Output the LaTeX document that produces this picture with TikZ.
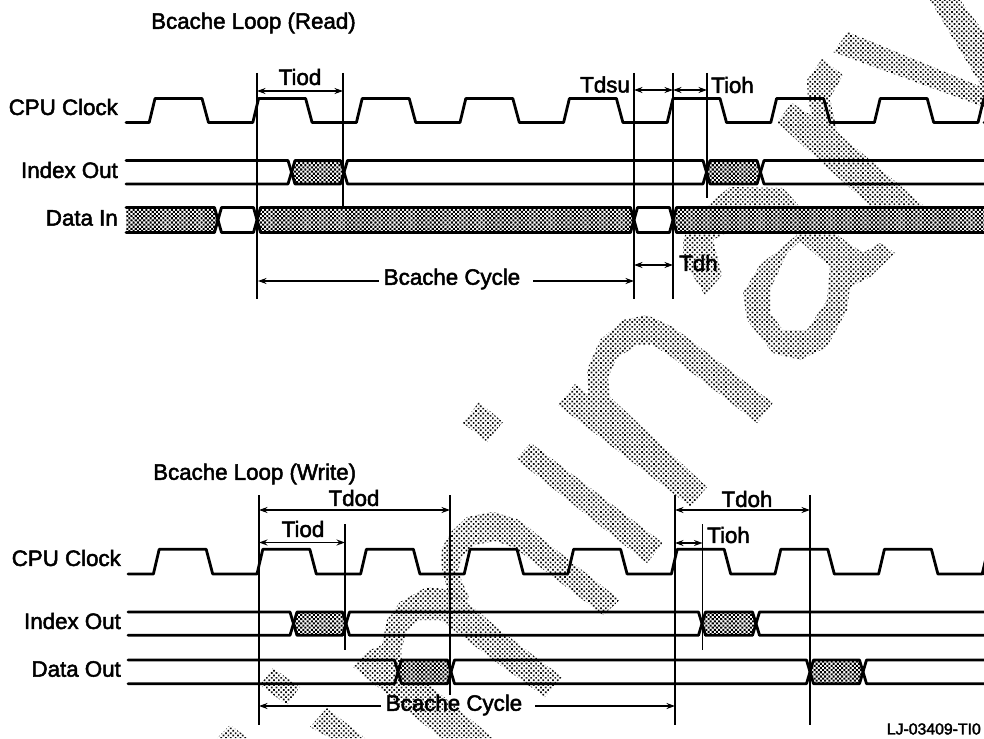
\documentclass[tikz,border=0pt]{standalone}
\usepackage{fontspec}
\setmainfont[FakeBold=2.2]{Liberation Sans}
\usetikzlibrary{patterns.meta,arrows.meta}
\definecolor{wm}{gray}{0.05}
\tikzset{
  wmark/.style={pattern={Dots[distance=3.4pt,radius=1.2pt,angle=45]},pattern color=wm},
  sig/.style={line width=2.8pt,line join=round,line cap=round},
  hatchfill/.style={pattern={Dots[distance=3pt,radius=1.45pt,angle=45]},pattern color=black},
  timeline/.style={line width=1.7pt},
  dim/.style={line width=1.2pt,{Stealth[length=8.5pt,width=6pt]}-{Stealth[length=8.5pt,width=6pt]}},
  onearrow/.style={line width=1.5pt,-{Stealth[length=8.5pt,width=6pt]}},
  lab/.style={font=\fontsize{22.3}{24}\selectfont,inner sep=0pt},
}
% clock: #1 first top start, #2 low y, #3 high y, #4 left end
\newcommand{\clockline}[4]{%
  \draw[sig] (#4,#2)
    \foreach \k in {0,...,8}{
      -- ({#1+103.6*\k-5.8},#2) -- ({#1+103.6*\k},#3) -- ({#1+103.6*\k+47},#3) -- ({#1+103.6*\k+53.5},#2)
    } -- (984,#2);}
% #1 x left tip, #2 x right tip, #3 top, #4 bottom
\newcommand{\plainseg}[4]{\draw[sig] ({#1+3.5},#3)--({#2-3.5},#3)--(#2,{(#3+#4)/2})--({#2-3.5},#4)--({#1+3.5},#4)--(#1,{(#3+#4)/2})--cycle;}
\newcommand{\hatchseg}[4]{\fill[white] ({#1+3.5},#3)--({#2-3.5},#3)--(#2,{(#3+#4)/2})--({#2-3.5},#4)--({#1+3.5},#4)--(#1,{(#3+#4)/2})--cycle;
  \path[hatchfill] ({#1+3.5},#3)--({#2-3.5},#3)--(#2,{(#3+#4)/2})--({#2-3.5},#4)--({#1+3.5},#4)--(#1,{(#3+#4)/2})--cycle;\plainseg{#1}{#2}{#3}{#4}}
\newcommand{\openL}[4]{\draw[sig] (#1,#3)--({#2-3.5},#3)--(#2,{(#3+#4)/2})--({#2-3.5},#4)--(#1,#4);}
\newcommand{\openR}[4]{\draw[sig] (#2,#3)--({#1+3.5},#3)--(#1,{(#3+#4)/2})--({#1+3.5},#4)--(#2,#4);}
\begin{document}
\begin{tikzpicture}[x=1pt,y=-1pt]
\useasboundingbox (0,0) rectangle (984,738);
\fill[white] (0,0) rectangle (984,738);
\begin{scope}
\clip (0,0) rectangle (984,738);
% ---- watermark ----
\path[wmark] (479,402)--(503,422)--(487,442)--(463,423)--cycle;
\path[wmark] (531,443)--(663,543)--(647,563)--(516,459)--cycle;
\path[wmark] (558,405)--(575,384)--(588,395)--(587,370)--(600,340)--(623,320)--(647,315)--(673,327)--(693,342)--(773,403)--(757,423)--(673,358)--(653,345)--(637,345)--(617,358)--(608,377)--(610,397)--(707,487)--(691,507)--cycle;
% m, first arch
\path[wmark] (441,565)--(442,548)--(450,533)--(467,517)--(493,512)--(520,520)--(540,537)--(620,600)--(603,615)--(540,567)--(515,548)--(495,541)--(475,545)--(462,556)--(458,572)--(470,600)--(450,600)--cycle;
% m, second arch and right leg
\path[wmark] (382,645)--(387,620)--(400,602)--(427,587)--(453,590)--(500,630)--(562,677)--(545,697)--(500,665)--(463,637)--(440,620)--(420,620)--(407,630)--(401,650)--(402,662)--(493,738)--(441,738)--(353,667)--(370,650)--cycle;
% i before m
\path[wmark] (273,668)--(300,687)--(287,705)--(260,685)--cycle;
\path[wmark] (327,708)--(365,738)--(330,738)--(310,727)--cycle;
\path[wmark] (230,725)--(248,738)--(217,738)--cycle;
% a
\path[wmark,even odd rule] (683,240)--(690,225)--(710,203)--(730,187)--(783,188)--(800,207)--(840,237)--(863,253)--(880,243)--(895,253)--(870,277)--(850,287)--(847,310)--(827,347)--(800,360)--(773,353)--(747,320)--(743,293)--(760,265)--(797,235)--(770,225)--(722,235)--(713,240)--(722,275)--(705,295)--(683,260)--cycle
  (800,241)--(830,267)--(827,300)--(807,330)--(783,330)--(770,313)--(770,290)--(787,253)--cycle;
% stems above
\path[wmark] (777,122)--(792,103)--(812,116)--(808,100)--(807,80)--(822,59)--(843,75)--(830,98)--(837,132)--(923,205)--(923,212)--(877,212)--(813,155)--cycle;
% y
\path[wmark] (833,52)--(848,32)--(984,88)--(984,107)--cycle;
\path[wmark] (930,0)--(960,0)--(984,32)--(984,90)--(973,72)--cycle;
% ---- read diagram ----
\clockline{155}{122.5}{98.5}{126}
\openL{126}{291.5}{160.5}{184}
\hatchseg{291.5}{344}{160.5}{184}
\plainseg{344}{706.5}{160.5}{184}
\hatchseg{706.5}{760.5}{160.5}{184}
\openR{760.5}{984}{160.5}{184}
% data in
\fill[white] (126,207) rectangle (215,233);
\path[hatchfill] (126,207)--(214.5,207)--(218,220)--(214.5,233)--(126,233)--cycle;
\openL{126}{218}{207.5}{232.5}
\plainseg{218}{257}{207.5}{232.5}
\hatchseg{257}{634}{207.5}{232.5}
\plainseg{634}{673}{207.5}{232.5}
\fill[white] (676,207) rectangle (984,233);
\path[hatchfill] (676.5,207)--(984,207)--(984,233)--(676.5,233)--(673,220)--cycle;
\openR{673}{984}{207.5}{232.5}
% ---- write diagram ----
\clockline{159.2}{574}{549.3}{128}
\openL{128}{293.5}{612}{635.3}
\hatchseg{293.5}{346}{612}{635.3}
\plainseg{346}{702}{612}{635.3}
\hatchseg{702}{756}{612}{635.3}
\openR{756}{984}{612}{635.3}
\openL{128}{398}{660}{683.7}
\hatchseg{398}{451}{660}{683.7}
\plainseg{451}{810}{660}{683.7}
\hatchseg{810}{863}{660}{683.7}
\openR{863}{984}{660}{683.7}
\end{scope}
% ---- timing coordinates ----
\coordinate (ra) at (257,73); \coordinate (rab) at (257,299);
\coordinate (rb) at (343,73); \coordinate (rbb) at (343,207);
\coordinate (rc) at (634,73); \coordinate (rcb) at (634,299);
\coordinate (rd) at (673,73); \coordinate (rdb) at (673,299);
\coordinate (re) at (707,73); \coordinate (reb) at (707,198);
\draw[timeline] (ra)--(rab); \draw[timeline] (rb)--(rbb); \draw[timeline] (rc)--(rcb);
\draw[timeline] (rd)--(rdb); \draw[timeline] (re)--(reb);
\coordinate (wa) at (259,495); \coordinate (wab) at (259,725);
\coordinate (wb) at (345,524); \coordinate (wbb) at (345,650);
\coordinate (wc) at (450,495); \coordinate (wcb) at (450,695);
\coordinate (wd) at (675,495); \coordinate (wdb) at (675,725);
\coordinate (we) at (702.5,524); \coordinate (web) at (702.5,650);
\coordinate (wf) at (810,495); \coordinate (wfb) at (810,725);
\draw[timeline] (wa)--(wab); \draw[timeline] (wb)--(wbb); \draw[timeline] (wc)--(wcb);
\draw[timeline] (wd)--(wdb); \draw[timeline] (we)--(web); \draw[timeline] (wf)--(wfb);
% ---- labels ----
\node[lab,anchor=west] (t1) at (151,23) {Bcache Loop (Read)};
\node[lab,anchor=west] (t2) at (153,474) {Bcache Loop (Write)};
\node[lab,anchor=east] (l1) at (118,107) {CPU Clock};
\node[lab,anchor=east] (l2) at (118,170) {Index Out};
\node[lab,anchor=east] (l3) at (118,218) {Data In};
\node[lab,anchor=east] (l4) at (121,558) {CPU Clock};
\node[lab,anchor=east] (l5) at (121,621) {Index Out};
\node[lab,anchor=east] (l6) at (121,669) {Data Out};
\node[lab] (tiod1) at (300,77) {Tiod};
\node[lab,anchor=east] (tdsu) at (630,84.5) {Tdsu};
\node[lab,anchor=west] (tioh1) at (711,85) {Tioh};
\node[lab,anchor=west] (tdh) at (679,263) {Tdh};
\node[lab] (bc1) at (452,279) {Bcache Cycle};
\node[lab] (tdod) at (354,498) {Tdod};
\node[lab] (tiod2) at (303,529) {Tiod};
\node[lab] (tdoh) at (747,499) {Tdoh};
\node[lab,anchor=west] (tioh2) at (707,535) {Tioh};
\node[lab] (bc2) at (454,705) {Bcache Cycle};
\node[font=\fontsize{15.8}{18}\selectfont,inner sep=0pt,anchor=east] (lj) at (981,729) {LJ-03409-TI0};
% ---- dimension arrows ----
\coordinate (a1) at (257,91); \coordinate (a2) at (343,91);
\draw[dim] (a1)--(a2);
\coordinate (a3) at (634,90); \coordinate (a4) at (673,90); \coordinate (a5) at (707,90);
\draw[dim] (a3)--(a4); \draw[dim] (a4)--(a5);
\coordinate (a6) at (634,265); \coordinate (a7) at (673,265);
\draw[dim] (a6)--(a7);
\coordinate (a8) at (258,281); \coordinate (a9) at (634,281);
\draw[onearrow] (bc1.west |- a8) ++(-5,0) coordinate (a8s) (a8s)--(a8);
\draw[onearrow] (bc1.east |- a9) ++(13,0) coordinate (a9s) (a9s)--(a9);
\coordinate (b1) at (259,510); \coordinate (b2) at (450,510);
\draw[dim] (b1)--(b2);
\coordinate (b3) at (259,542.5); \coordinate (b4) at (345,542.5);
\draw[dim] (b3)--(b4);
\coordinate (b5) at (675,510); \coordinate (b6) at (810,510);
\draw[dim] (b5)--(b6);
\coordinate (b7) at (675,543); \coordinate (b8) at (702.5,543);
\draw[dim] (b7)--(b8);
\coordinate (b9) at (259,706); \coordinate (b10) at (675,706);
\draw[onearrow] (bc2.west |- b9) ++(-5,0) coordinate (b9s) (b9s)--(b9);
\draw[onearrow] (bc2.east |- b10) ++(13,0) coordinate (b10s) (b10s)--(b10);
\end{tikzpicture}
\end{document}
